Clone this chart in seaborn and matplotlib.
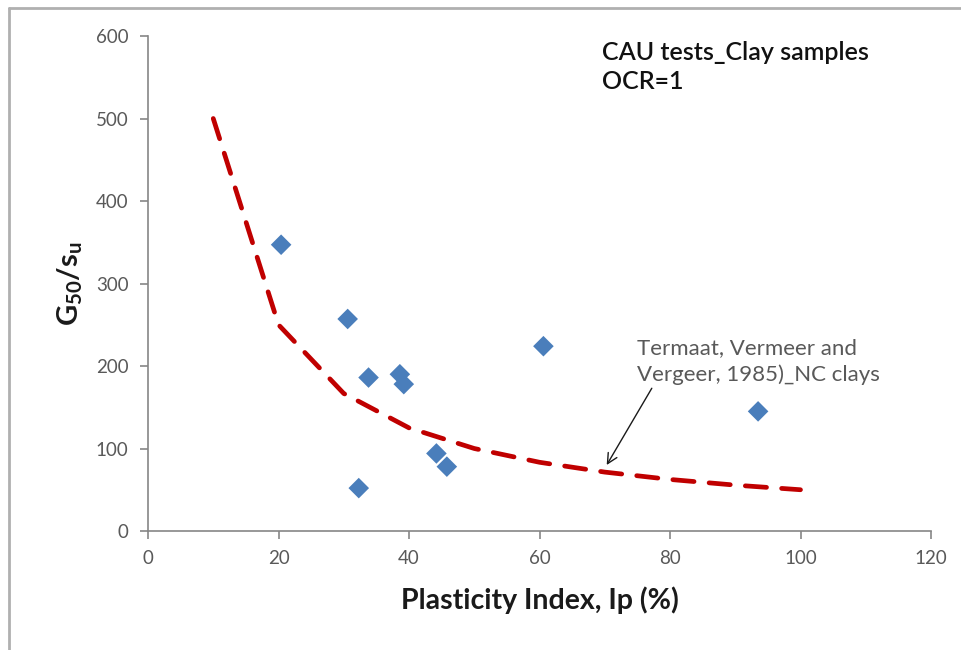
import matplotlib
matplotlib.use("Agg")
import matplotlib.pyplot as plt
import seaborn as sns
import pandas as pd
from matplotlib.lines import Line2D

# Data
ip_points = [20.4, 30.6, 33.8, 32.3, 38.6, 39.2, 44.2, 45.8, 60.6, 93.5]
g_points = [347, 257, 186, 52, 190, 178, 94, 78, 224, 145]

ip_curve = [10, 20, 30, 40, 50, 60, 70, 80, 90, 100]
g_curve = [500, 250, 166.7, 125, 100, 83.3, 71.4, 62.5, 55.6, 50]

x_ticks = [0, 20, 40, 60, 80, 100, 120]
y_ticks = [0, 100, 200, 300, 400, 500, 600]

sns.set_theme(style="white")
plt.rcParams['font.family'] = ['Lato', 'DejaVu Sans']
plt.rcParams['mathtext.fontset'] = 'custom'
plt.rcParams['mathtext.rm'] = 'Lato'
plt.rcParams['mathtext.bf'] = 'Lato:bold'
plt.rcParams['mathtext.it'] = 'Lato:italic'

df_pts = pd.DataFrame({"ip": ip_points, "g": g_points})
df_curve = pd.DataFrame({"ip": ip_curve, "g": g_curve})

fig = plt.figure(figsize=(9.61, 6.5), dpi=100)
ax = fig.add_axes([148/961, 1-531/650, (931-148)/961, (531-36)/650])

sns.lineplot(data=df_curve, x="ip", y="g", ax=ax, color="#C00000",
             linewidth=3.4, linestyle=(0, (4.5, 3.2)), dash_capstyle="round",
             solid_capstyle="round", zorder=2)
sns.scatterplot(data=df_pts, x="ip", y="g", ax=ax, marker="D", s=110,
                color="#4A7EBB", edgecolor="none", zorder=3)

ax.set_xlim(0, 120)
ax.set_ylim(0, 600)
ax.set_xticks(x_ticks)
ax.set_yticks(y_ticks)
ax.set_xticklabels([str(t) for t in x_ticks])
ax.set_yticklabels([str(t) for t in y_ticks])

gray = "#868686"
for s in ["top", "right"]:
    ax.spines[s].set_visible(False)
for s in ["left", "bottom"]:
    ax.spines[s].set_color(gray)
    ax.spines[s].set_linewidth(1.2)
ax.tick_params(axis="both", which="major", direction="out", length=6,
               width=1.2, color=gray, labelsize=13.5, labelcolor="#595959",
               bottom=True, left=True, pad=8)

ax.set_xlabel("Plasticity Index, Ip (%)", fontsize=20.5, fontweight="bold",
              color="#1a1a1a", labelpad=14)
ax.set_ylabel(r"$\mathbf{G_{50}/s_u}$", fontsize=21, color="#1a1a1a", labelpad=8)

ax.text(0.58, 0.99, "CAU tests_Clay samples\nOCR=1", transform=ax.transAxes,
        fontsize=18, fontweight="semibold", color="#111111", va="top", ha="left",
        linespacing=1.3)

ax.annotate("Termaat, Vermeer and\nVergeer, 1985)_NC clays",
            xy=(70.3, 80), xytext=(74.9, 177), textcoords="data",
            fontsize=16, color="#595959", va="bottom", ha="left",
            linespacing=1.4,
            arrowprops=dict(arrowstyle="->", color="#1a1a1a", lw=1.0,
                            shrinkA=0, shrinkB=0, mutation_scale=18,
                            relpos=(0.07, 0.0)))

# thin gray frame (left and top)
fig.add_artist(Line2D([9/961, 9/961], [0, 1-8/650], transform=fig.transFigure,
                      color="#b0b0b0", linewidth=2))
fig.add_artist(Line2D([9/961, 1], [1-8/650, 1-8/650], transform=fig.transFigure,
                      color="#b0b0b0", linewidth=2))

fig.savefig("out.png", dpi=100)
